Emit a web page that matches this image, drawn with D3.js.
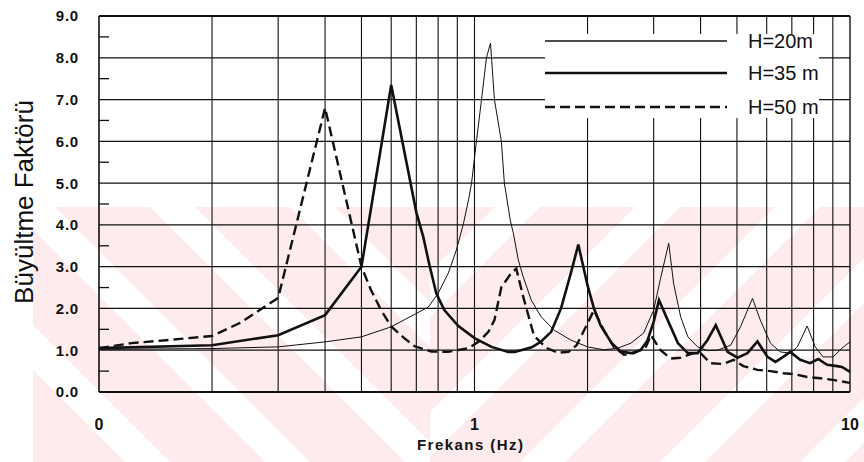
<!DOCTYPE html>
<html>
<head>
<meta charset="utf-8">
<script src="https://cdn.jsdelivr.net/npm/d3@7"></script>
<style>
  html, body { margin: 0; padding: 0; background: #fff; }
  svg { display: block; font-family: Arial, "Liberation Sans", sans-serif; }
</style>
</head>
<body>
<svg id="chart" width="864" height="462"></svg>
<script>
// Amplification factor vs. frequency for three soil layer thicknesses
const seriesNames = ["H=20m", "H=35 m", "H=50 m"];

const h20Freq = [0.1, 0.2, 0.3, 0.4, 0.5, 0.6, 0.686, 0.753, 0.801, 0.852, 0.895, 0.935, 0.964, 0.982, 1.012, 1.044, 1.076, 1.103,
  1.13, 1.179, 1.201, 1.246, 1.269, 1.308, 1.349, 1.416, 1.505, 1.63, 1.808, 2.0, 2.21, 2.41, 2.61, 2.82, 3.0, 3.13, 3.29,
  3.39, 3.54, 3.70, 3.93, 4.17, 4.44, 4.81, 5.11, 5.50, 5.77, 6.14, 6.52, 6.93, 7.24, 7.69, 8.08, 8.48, 9.02, 9.52, 10];
const h20Amp = [1.02, 1.04, 1.08, 1.2, 1.32, 1.56, 1.84, 2.03, 2.37, 2.85, 3.4, 4.04, 4.6, 5.0, 6.0, 7.0, 8.0, 8.35,
  7.0, 6.0, 5.0, 4.1, 3.8, 3.16, 2.75, 2.2, 1.8, 1.48, 1.24, 1.08, 1.01, 1.05, 1.17, 1.41, 1.96, 2.72, 3.56,
  2.6, 1.8, 1.32, 1.08, 0.99, 1.0, 1.12, 1.56, 2.24, 1.72, 1.17, 0.96, 0.93, 1.08, 1.58, 1.08, 0.84, 0.84, 1.05, 1.2];

const h35Freq = [0.1, 0.2, 0.3, 0.4, 0.5, 0.6, 0.7, 0.731, 0.758, 0.791, 0.831, 0.906, 1.0, 1.11, 1.23, 1.28, 1.42, 1.5, 1.6,
  1.7, 1.81, 1.89, 2.0, 2.08, 2.17, 2.32, 2.45, 2.61, 2.77, 2.89, 3.0, 3.1, 3.27, 3.48, 3.7, 3.93, 4.17, 4.39, 4.72,
  5.02, 5.33, 5.67, 6.03, 6.33, 6.64, 6.93, 7.37, 7.83, 8.23, 8.69, 9.24, 9.52, 10];
const h35Amp = [1.05, 1.12, 1.36, 1.84, 3.0, 7.35, 4.3, 3.7, 3.05, 2.36, 1.96, 1.58, 1.29, 1.08, 0.96, 0.96, 1.07, 1.2, 1.44,
  2.0, 2.88, 3.53, 2.55, 2.0, 1.58, 1.17, 0.97, 0.93, 1.0, 1.24, 1.68, 2.2, 1.72, 1.17, 0.93, 0.93, 1.24, 1.6, 0.96,
  0.82, 0.93, 1.21, 0.84, 0.72, 0.84, 0.96, 0.77, 0.69, 0.79, 0.65, 0.62, 0.6, 0.48];

const h50Freq = [0.1, 0.122, 0.151, 0.2, 0.237, 0.268, 0.3, 0.4, 0.5, 0.53, 0.564, 0.6, 0.65, 0.691, 0.767, 0.85, 0.964,
  1.025, 1.089, 1.13, 1.179, 1.254, 1.292, 1.349, 1.44, 1.55, 1.67, 1.78, 1.87, 1.98, 2.08, 2.21, 2.35, 2.5, 2.66, 2.86,
  2.95, 3.13, 3.33, 3.54, 3.83, 4.0, 4.25, 4.6, 4.9, 5.2, 5.67, 6.14, 6.64, 7.06, 7.69, 8.33, 9.0, 10];
const h50Amp = [1.05, 1.17, 1.24, 1.34, 1.65, 1.96, 2.25, 6.8, 3.0, 2.44, 1.96, 1.57, 1.29, 1.1, 0.97, 0.96, 1.05,
  1.2, 1.44, 1.72, 2.51, 2.85, 2.95, 2.27, 1.35, 1.06, 0.94, 0.96, 1.12, 1.56, 1.96, 1.48, 1.08, 0.89, 0.93, 1.08,
  1.36, 1.0, 0.8, 0.82, 0.93, 0.93, 0.69, 0.67, 0.77, 0.62, 0.53, 0.5, 0.45, 0.43, 0.36, 0.33, 0.29, 0.22];

const xTickValues = [0.1, 1, 10];
const xTickLabels = ["0", "1", "10"];
const xGridValues = [0.2, 0.3, 0.4, 0.5, 0.6, 0.7, 0.8, 0.9, 2, 3, 4, 5, 6, 7, 8, 9];
const yTickValues = [0, 1, 2, 3, 4, 5, 6, 7, 8, 9];
const yTickLabels = ["0.0", "1.0", "2.0", "3.0", "4.0", "5.0", "6.0", "7.0", "8.0", "9.0"];
const yMinorValues = [0.5, 1.5, 2.5, 3.5, 4.5, 5.5, 6.5, 7.5, 8.5];
const xTitle = "Frekans (Hz)";
const yTitle = "Büyültme Faktörü";

const svg = d3.select("#chart");
const x = d3.scaleLog().domain([0.1, 10]).range([99, 850]);
const y = d3.scaleLinear().domain([0, 9]).range([392, 16]);

// Faint diagonal stripes in the lower band of the page
const defs = svg.append("defs");
defs.append("clipPath").attr("id", "clipL")
  .append("rect").attr("x", 33).attr("y", 207).attr("width", 397).attr("height", 255);
defs.append("clipPath").attr("id", "clipR")
  .append("rect").attr("x", 430).attr("y", 207).attr("width", 434).attr("height", 255);
const pink = "#fdebee";
const period = 140, band = 95, bandTop = 207, bandBot = 462, span = bandBot - bandTop;
const gl = svg.append("g").attr("clip-path", "url(#clipL)");
const gr = svg.append("g").attr("clip-path", "url(#clipR)");
d3.range(-6, 12).forEach(k => {
  const a = -225 + k * period;
  gl.append("polygon").attr("fill", pink)
    .attr("points", [[a, bandTop], [a + band, bandTop], [a + band + span, bandBot], [a + span, bandBot]].join(" "));
  const b = 400 + k * period;
  gr.append("polygon").attr("fill", pink)
    .attr("points", [[b, bandTop], [b + band, bandTop], [b + band - span, bandBot], [b - span, bandBot]].join(" "));
});

// Grid
const grid = svg.append("g").attr("stroke", "#111");
grid.selectAll("line.v").data(xGridValues.concat([1])).join("line")
  .attr("x1", d => x(d)).attr("x2", d => x(d))
  .attr("y1", y(9)).attr("y2", y(0)).attr("stroke-width", 1.1);
grid.selectAll("line.h").data(yTickValues.filter(d => d > 0 && d < 9)).join("line")
  .attr("x1", x(0.1)).attr("x2", x(10))
  .attr("y1", d => y(d)).attr("y2", d => y(d)).attr("stroke-width", 1.3);
grid.selectAll("line.m").data(yMinorValues).join("line")
  .attr("x1", x(0.1)).attr("x2", x(0.1) + 10)
  .attr("y1", d => y(d)).attr("y2", d => y(d)).attr("stroke-width", 1.3);

// Frame
const frame = svg.append("g").attr("stroke", "#111").attr("fill", "none");
frame.append("line").attr("x1", x(0.1)).attr("x2", x(10)).attr("y1", y(9)).attr("y2", y(9)).attr("stroke-width", 1.8);
frame.append("line").attr("x1", x(0.1)).attr("x2", x(10)).attr("y1", y(0)).attr("y2", y(0)).attr("stroke-width", 2);
frame.append("line").attr("x1", x(0.1)).attr("x2", x(0.1)).attr("y1", y(9)).attr("y2", y(0)).attr("stroke-width", 1.6);
frame.append("line").attr("x1", x(10)).attr("x2", x(10)).attr("y1", y(9)).attr("y2", y(0)).attr("stroke-width", 1.4);

// Curves
const line = d3.line().x(d => x(d[0])).y(d => y(d[1])).curve(d3.curveLinear);
const series = [
  { name: seriesNames[0], pts: d3.zip(h20Freq, h20Amp), width: 1, dash: null },
  { name: seriesNames[1], pts: d3.zip(h35Freq, h35Amp), width: 2.6, dash: null },
  { name: seriesNames[2], pts: d3.zip(h50Freq, h50Amp), width: 2.4, dash: "10,5" }
];
svg.append("g").selectAll("path").data(series).join("path")
  .attr("d", d => line(d.pts))
  .attr("fill", "none").attr("stroke", "#111")
  .attr("stroke-width", d => d.width)
  .attr("stroke-dasharray", d => d.dash)
  .attr("stroke-linejoin", "miter");

// Legend
const lg = svg.append("g");
lg.append("rect").attr("x", 545).attr("y", 34).attr("width", 274).attr("height", 84).attr("fill", "#fff");
const legendY = [41, 73, 107];
series.forEach((s, i) => {
  lg.append("line").attr("x1", 545).attr("x2", 727).attr("y1", legendY[i]).attr("y2", legendY[i])
    .attr("stroke", "#111").attr("stroke-width", s.width === 1 ? 1.4 : s.width)
    .attr("stroke-dasharray", s.dash);
  lg.append("text").attr("x", 748).attr("y", legendY[i] + 7)
    .attr("font-size", 20).attr("fill", "#111").text(s.name);
});

// Axis labels
const yl = svg.append("g").attr("font-size", 15).attr("font-weight", "bold").attr("fill", "#111");
yl.selectAll("text").data(yTickValues).join("text")
  .attr("x", 79).attr("y", d => y(d)).attr("dy", "0.36em")
  .attr("text-anchor", "end").attr("letter-spacing", 0.8)
  .text((d, i) => yTickLabels[i]);
const xl = svg.append("g").attr("font-size", 16).attr("font-weight", "bold").attr("fill", "#111");
xl.selectAll("text").data(xTickValues).join("text")
  .attr("x", d => x(d)).attr("y", 430).attr("text-anchor", "middle")
  .text((d, i) => xTickLabels[i]);

svg.append("text").attr("x", 470).attr("y", 450).attr("text-anchor", "middle")
  .attr("font-size", 15).attr("font-weight", "bold").attr("fill", "#111")
  .attr("textLength", 106).attr("lengthAdjust", "spacing")
  .text(xTitle);
svg.append("text").attr("transform", "translate(33,202) rotate(-90)")
  .attr("text-anchor", "middle").attr("font-size", 26).attr("fill", "#111")
  .text(yTitle);
</script>
</body>
</html>
